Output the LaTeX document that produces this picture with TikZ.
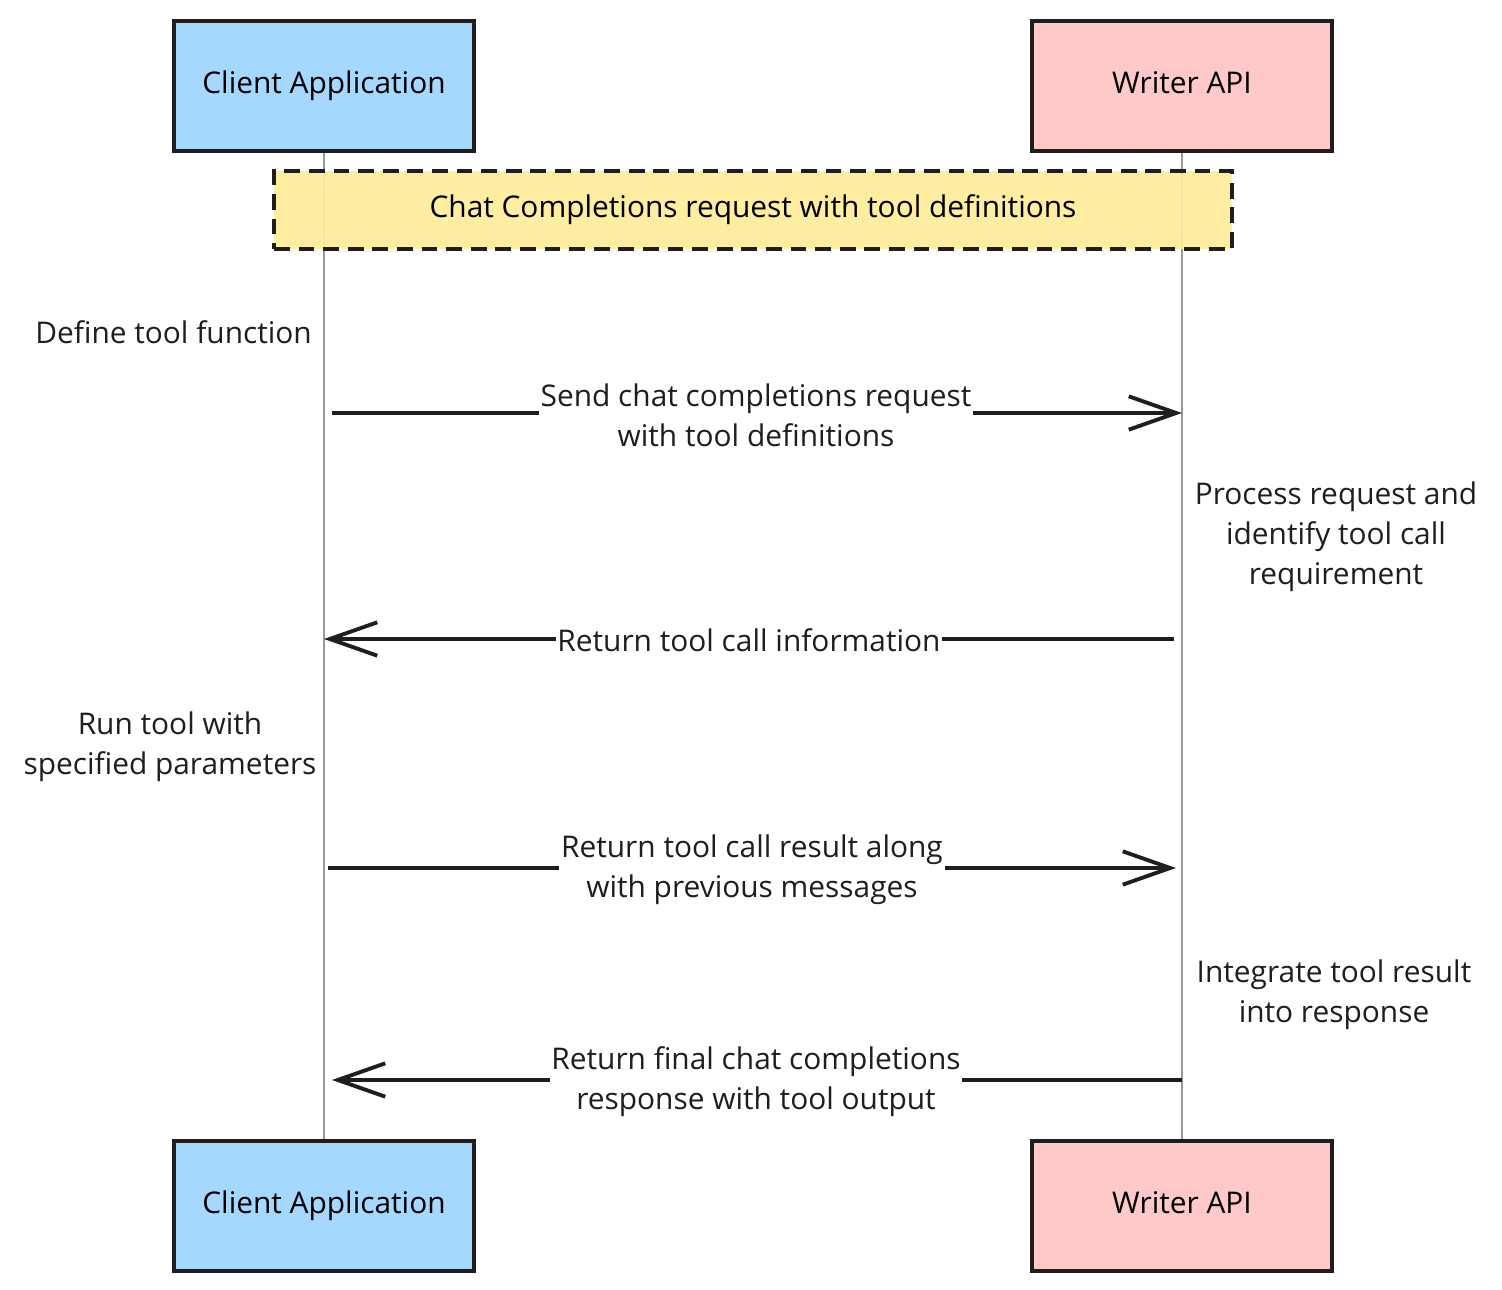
\documentclass[tikz,border=0pt]{standalone}
\usepackage{fontspec}
\setmainfont{Open Sans}
\usetikzlibrary{arrows.meta}
\definecolor{clientblue}{HTML}{A5D8FF}
\definecolor{writerpink}{HTML}{FFC9C9}
\definecolor{noteyellow}{HTML}{FFEC99}
\definecolor{inkgray}{HTML}{1E1E1E}
\tikzset{
  actor/.style={draw=inkgray, line width=2.2pt, minimum width=300*0.02cm, minimum height=130*0.02cm,
                text height=12.5pt, text depth=3.5pt, font=\fontsize{17}{20}\selectfont},
  msg/.style={draw=inkgray, line width=2.2pt, -{Straight Barb[length=27pt, width=19pt, line width=2.2pt]}},
  lbl/.style={fill=white, inner sep=1pt, align=center, font=\fontsize{17}{22.7}\selectfont, text=inkgray},
  side/.style={align=center, font=\fontsize{17}{22.7}\selectfont, text=inkgray},
}
\begin{document}
\begin{tikzpicture}[x=0.02cm, y=-0.02cm]
    \useasboundingbox (0,0) rectangle (1502,1290);

    % Lifelines
    \draw[gray!80, line width=0.7pt] (324,150) -- (324,1140);
    \draw[gray!80, line width=0.7pt] (1182,150) -- (1182,1140);

    % Participants
    \node[actor, fill=clientblue] (clienttop) at (324,86) {Client Application};
    \node[actor, fill=writerpink] (writertop) at (1182,86) {Writer API};
    \node[actor, fill=clientblue] (clientbot) at (324,1206) {Client Application};
    \node[actor, fill=writerpink] (writerbot) at (1182,1206) {Writer API};

    % Note across both lifelines
    \node[draw=inkgray, dash pattern=on 9pt off 5pt, line width=2.2pt, fill=noteyellow, fill opacity=0.92, text opacity=1,
          minimum width=958*0.02cm, minimum height=78*0.02cm, text height=12.5pt, text depth=3.5pt,
          font=\fontsize{17}{20}\selectfont] (note) at (753,210) {Chat Completions request with tool definitions};

    % Self steps
    \node[side, anchor=east] (define) at (318,332) {Define tool function};
    \node[side] (process) at (1336,537) {Process request and\\identify tool call\\requirement};
    \node[side] (runtool) at (170,747) {Run tool with\\specified parameters};
    \node[side] (integrate) at (1334,995) {Integrate tool result\\into response};

    % Message end points
    \coordinate (c1) at (332,413);  \coordinate (w1) at (1182,413);
    \coordinate (w2) at (1174,639); \coordinate (c2) at (324,639);
    \coordinate (c3) at (328,868);  \coordinate (w3) at (1176,868);
    \coordinate (w4) at (1182,1080); \coordinate (c4) at (332,1080);

    % Messages
    \draw[msg] (c1) -- (w1);
    \node[lbl] (m1) at (756,415) {Send chat completions request\\with tool definitions};
    \draw[msg] (w2) -- (c2);
    \node[lbl] (m2) at (749,640) {Return tool call information};
    \draw[msg] (c3) -- (w3);
    \node[lbl] (m3) at (752,870) {Return tool call result along\\with previous messages};
    \draw[msg] (w4) -- (c4);
    \node[lbl] (m4) at (756,1082) {Return final chat completions\\response with tool output};
\end{tikzpicture}
\end{document}
